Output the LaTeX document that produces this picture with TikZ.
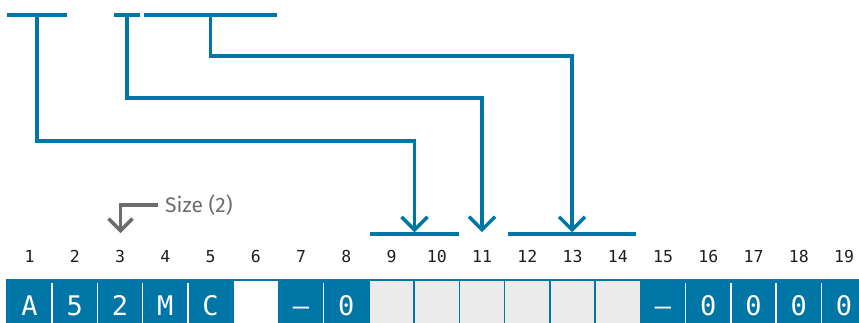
\documentclass[tikz,border=0pt]{standalone}
\usepackage{fontspec}
\newfontfamily\fonteMono{DejaVu Sans Mono}
\newfontfamily\fonteSans{Fira Sans}
\usetikzlibrary{positioning, arrows.meta}
\definecolor{azul}{RGB}{0,118,166}
\definecolor{cinzaclaro}{RGB}{235,235,235}
\definecolor{cinzaseta}{RGB}{108,108,108}
\definecolor{preto}{RGB}{30,30,30}

\begin{document}
\begin{tikzpicture}[x=1pt, y=-1pt,
    celula/.style={draw=azul, line width=1.5pt, minimum width=45.25pt, minimum height=45pt, inner sep=0pt, outer sep=0pt, text height=25pt, text depth=0pt, font=\fonteMono\fontsize{27}{30}\selectfont},
    cheia/.style={fill=azul, text=white},
    vazia/.style={fill=white},
    cinza/.style={fill=cinzaclaro},
    numero/.style={anchor=base, inner sep=0pt, text=preto, font=\fonteMono\fontsize{16.5}{19}\selectfont},
    barra/.style={fill=azul, minimum height=3.5pt, inner sep=0pt, outer sep=0pt},
    seta/.style={-{Straight Barb[length=13pt, width=26pt]}, azul, line width=3.5pt},
    setacinza/.style={-{Straight Barb[length=12pt, width=24pt]}, cinzaseta, line width=3.5pt},
    divisor/.style={white, line width=1.5pt},
    rot/.style={anchor=west, inner xsep=7pt, inner ysep=0pt, text=cinzaseta, font=\fonteSans\fontsize{21}{24}\selectfont}
]
\useasboundingbox (0,0) rectangle (859,322);
\clip (0,0) rectangle (859,322);
\foreach \i/\c/\tipo in {1/A/cheia, 2/5/cheia, 3/2/cheia, 4/M/cheia, 5/C/cheia, 6//vazia, 7/–/cheia, 8/0/cheia, 9//cinza, 10//cinza, 11//cinza, 12//cinza, 13//cinza, 14//cinza, 15/–/cheia, 16/0/cheia, 17/0/cheia, 18/0/cheia, 19/0/cheia}{
    \node[celula, \tipo] (c\i) at ({29.5+45.25*(\i-1)}, 302.5) {\c};
    \node[numero] (n\i) at ({29.5+45.25*(\i-1)}, 262) {\i};
}
\foreach \a in {1,2,3,4,7,15,16,17,18}
    \draw[divisor] ([yshift=-3pt]c\a.north east) -- (c\a.south east);
\node[barra, minimum width=60pt] (g1) at (37,15) {};
\node[barra, minimum width=26pt] (g2) at (127,15) {};
\node[barra, minimum width=133pt] (g3) at (210.5,15) {};
\node[barra, minimum width=89pt] (b1) at (414.5,234) {};
\node[barra, minimum width=128pt] (b2) at (572,234) {};
\coordinate (k1) at (37,141);
\coordinate (k2) at (127,98);
\coordinate (k3) at (210.5,56);
\coordinate (a11) at (482,232.2);
\draw[seta] (g1) -- (k1) -| (b1.north);
\draw[seta] (g2) -- (k2) -| (a11);
\draw[seta] (g3) -- (k3) -| (b2.north);
\node[rot] (tam) at (158,205) {Size (2)};
\coordinate (a3) at (120.5,233);
\draw[setacinza] (tam.west) -| (a3);
\end{tikzpicture}
\end{document}
